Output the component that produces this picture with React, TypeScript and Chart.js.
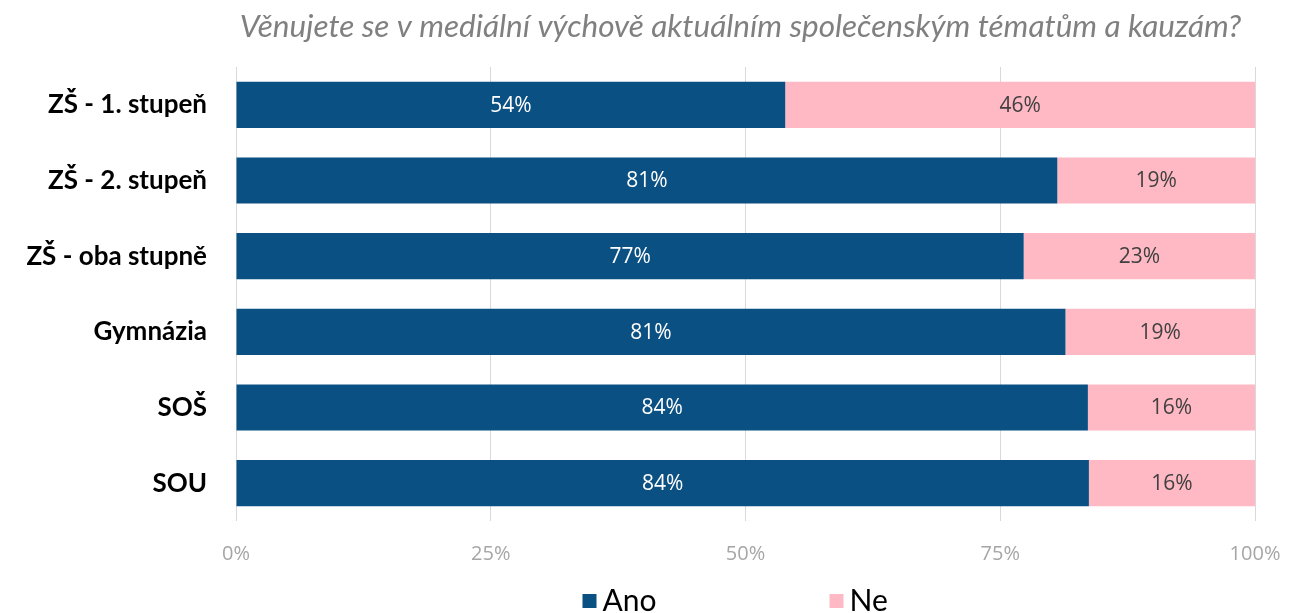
import { useEffect, useRef } from "react";
import { Chart, registerables } from "chart.js";

Chart.register(...registerables);

const chartTitle = "Věnujete se v mediální výchově aktuálním společenským tématům a kauzám?";
const categories = ["ZŠ - 1. stupeň", "ZŠ - 2. stupeň", "ZŠ - oba stupně", "Gymnázia", "SOŠ", "SOU"];
const seriesNames = ["Ano", "Ne"];
const anoValues = [53.9, 80.6, 77.3, 81.4, 83.6, 83.7];
const neValues = [46.1, 19.4, 22.7, 18.6, 16.4, 16.3];
const xTickValues = [0, 25, 50, 75, 100];
const seriesColors = ["#0B5083", "#FFB9C4"];
const labelColors = ["#FFFFFF", "#404040"];

const titlePlugin = {
  id: "customTitle",
  afterDraw(chart: any) {
    const { ctx, chartArea } = chart;
    ctx.save();
    ctx.font = "italic 31.5px Lato";
    ctx.fillStyle = "#808080";
    ctx.textAlign = "center";
    ctx.textBaseline = "middle";
    ctx.fillText(chartTitle, (chartArea.left + chartArea.right) / 2 - 5, 27);
    ctx.restore();
  },
};

const dataLabelPlugin = {
  id: "barLabels",
  afterDatasetsDraw(chart: any) {
    const { ctx } = chart;
    ctx.save();
    ctx.font = "21px 'Open Sans'";
    ctx.textAlign = "center";
    ctx.textBaseline = "middle";
    chart.data.datasets.forEach((ds: any, di: number) => {
      const meta = chart.getDatasetMeta(di);
      meta.data.forEach((el: any, i: number) => {
        const p = el.getCenterPoint();
        ctx.fillStyle = labelColors[di];
        ctx.fillText(Math.round(ds.data[i]) + "%", p.x, p.y + 1);
      });
    });
    ctx.restore();
  },
};

const legendPlugin = {
  id: "customLegend",
  afterDraw(chart: any) {
    const { ctx, chartArea } = chart;
    ctx.save();
    ctx.font = "30px Lato";
    ctx.textBaseline = "middle";
    ctx.textAlign = "left";
    const slot = 247;
    const startX = (chartArea.left + chartArea.right) / 2 - 163;
    const y = 601;
    chart.data.datasets.forEach((ds: any, i: number) => {
      const x = startX + i * slot;
      ctx.fillStyle = ds.backgroundColor;
      ctx.fillRect(x, y - 7, 14, 14);
      ctx.fillStyle = "#000000";
      ctx.fillText(ds.label, x + 20, y);
    });
    ctx.restore();
  },
};

export default function App() {
  const ref = useRef<HTMLCanvasElement>(null);
  useEffect(() => {
    document.body.style.margin = "0";
    const chart = new Chart(ref.current!, {
      type: "bar",
      data: {
        labels: categories,
        datasets: [
          { label: seriesNames[0], data: anoValues, backgroundColor: seriesColors[0] },
          { label: seriesNames[1], data: neValues, backgroundColor: seriesColors[1] },
        ],
      },
      options: {
        indexAxis: "y",
        animation: false,
        responsive: false,
        layout: { padding: { top: 67, right: 43, left: 0, bottom: 0 } },
        datasets: { bar: { barPercentage: 0.61, categoryPercentage: 1 } },
        plugins: {
          legend: { display: false },
          title: { display: false },
          tooltip: { enabled: false },
        },
        scales: {
          x: {
            stacked: true,
            min: 0,
            max: 100,
            afterFit(scale: any) {
              scale.height = 92;
              scale.paddingRight = 0;
              scale.paddingLeft = 0;
            },
            afterBuildTicks(scale: any) {
              scale.ticks = xTickValues.map((v) => ({ value: v }));
            },
            grid: { color: "#D9D9D9", drawTicks: false },
            border: { display: false },
            ticks: {
              padding: 21,
              color: "#A6A6A6",
              font: { family: "'Open Sans'", size: 20 },
              callback: (v: any) => v + "%",
            },
          },
          y: {
            stacked: true,
            afterFit(scale: any) {
              scale.width = 236;
            },
            grid: { display: false },
            border: { display: false },
            ticks: {
              padding: 21,
              color: "#000000",
              font: { family: "Lato", size: 26, weight: "bold" },
            },
          },
        },
      },
      plugins: [titlePlugin, dataLabelPlugin, legendPlugin],
    });
    return () => chart.destroy();
  }, []);
  return <canvas ref={ref} width={1298} height={613} style={{ display: "block" }} />;
}
